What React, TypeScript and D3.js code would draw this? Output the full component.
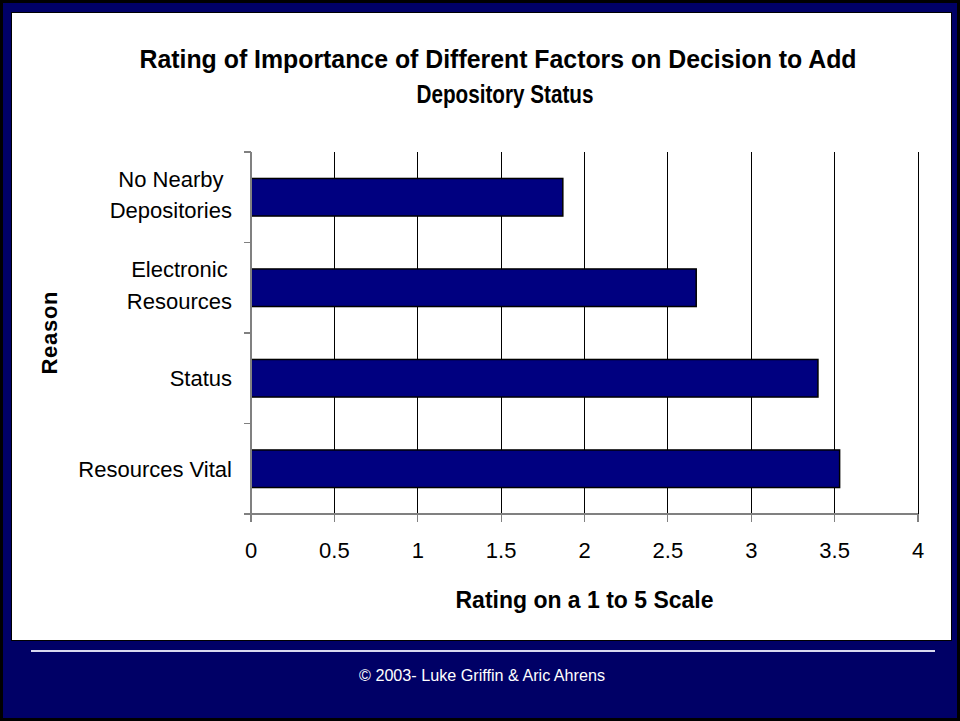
import React from "react";
import * as d3 from "d3";

const categories: string[][] = [
  ["No Nearby", "Depositories"],
  ["Electronic", "Resources"],
  ["Status"],
  ["Resources Vital"],
];
const values: number[] = [1.87, 2.67, 3.4, 3.53];
const xTicks: number[] = [0, 0.5, 1, 1.5, 2, 2.5, 3, 3.5, 4];
const titleLines: string[] = [
  "Rating of Importance of Different Factors on Decision to Add",
  "Depository Status",
];
const xTitle = "Rating on a 1 to 5 Scale";
const yTitle = "Reason";
const footer = "\u00A9 2003- Luke Griffin & Aric Ahrens";

const W = 960;
const H = 721;
const plot = { left: 251, right: 918, top: 152, bottom: 514 };
const NAVY = "#000066";
const BAR = "#000080";
const FONT = "'Liberation Sans', Arial, sans-serif";
const LABEL_SIZE = 22;

function measure(text: string, size: number, weight = "normal"): number {
  if (typeof document === "undefined") return text.length * size * 0.5;
  const c = document.createElement("canvas").getContext("2d");
  if (!c) return text.length * size * 0.5;
  c.font = `${weight} ${size}px 'Liberation Sans', Arial, sans-serif`;
  return c.measureText(text).width;
}

export default function App() {
  const x = d3.scaleLinear().domain([0, 4]).range([plot.left, plot.right]);
  const y = d3
    .scaleBand<number>()
    .domain(categories.map((_, i) => i))
    .range([plot.top, plot.bottom])
    .paddingInner(0.585)
    .paddingOuter(0.2925);
  const bandStep = (plot.bottom - plot.top) / categories.length;
  const catTicks = d3.range(categories.length + 1).map((i) => plot.top + i * bandStep);
  const labelRight = 232;

  return (
    <svg
      width={W}
      height={H}
      style={{ position: "absolute", left: 0, top: 0, display: "block" }}
      fontFamily={FONT}
    >
      {/* frame */}
      <rect x={0} y={0} width={W} height={H} fill="#000000" />
      <rect x={3} y={3} width={W - 6} height={H - 6} fill={NAVY} />
      <rect x={11.5} y={12.5} width={940} height={628} fill="#ffffff" stroke="#000" strokeWidth={1} />
      <line x1={31} x2={935} y1={651} y2={651} stroke="#d8d8ee" strokeWidth={2} />
      <text x={482} y={681} textAnchor="middle" fill="#ffffff" fontSize={16}
        textLength={246} lengthAdjust="spacingAndGlyphs">
        {footer}
      </text>

      {/* title */}
      <text x={498} y={68} textAnchor="middle" fontWeight="bold" fontSize={26} fill="#000"
        textLength={717} lengthAdjust="spacingAndGlyphs">
        {titleLines[0]}
      </text>
      <text x={505} y={103} textAnchor="middle" fontWeight="bold" fontSize={26} fill="#000"
        textLength={177} lengthAdjust="spacingAndGlyphs">
        {titleLines[1]}
      </text>

      {/* gridlines */}
      {xTicks.slice(1).map((t) => (
        <line key={"g" + t} x1={x(t)} x2={x(t)} y1={plot.top} y2={plot.bottom} stroke="#000" strokeWidth={1} shapeRendering="crispEdges" />
      ))}

      {/* bars */}
      {values.map((v, i) => (
        <rect
          key={"b" + i}
          x={x(0)}
          y={y(i)!}
          width={x(v) - x(0)}
          height={y.bandwidth()}
          fill={BAR}
          stroke="#000"
          strokeWidth={1.5}
        />
      ))}

      {/* axes */}
      <line x1={plot.left} x2={plot.left} y1={plot.top} y2={plot.bottom} stroke="#808080" strokeWidth={1.2} shapeRendering="crispEdges" />
      <line x1={plot.left - 7} x2={plot.right} y1={plot.bottom} y2={plot.bottom} stroke="#808080" strokeWidth={1.2} shapeRendering="crispEdges" />
      {catTicks.map((ty, i) => (
        <line key={"yt" + i} x1={plot.left - 7} x2={plot.left} y1={ty} y2={ty} stroke="#808080" strokeWidth={1.2} shapeRendering="crispEdges" />
      ))}
      {xTicks.map((t) => (
        <line key={"xt" + t} x1={x(t)} x2={x(t)} y1={plot.bottom} y2={plot.bottom + 8} stroke="#808080" strokeWidth={1.2} shapeRendering="crispEdges" />
      ))}

      {/* x tick labels */}
      {xTicks.map((t) => (
        <text key={"xl" + t} x={x(t)} y={558} textAnchor="middle" fontSize={LABEL_SIZE} fill="#000">
          {String(t)}
        </text>
      ))}

      {/* y labels */}
      {categories.map((lines, i) => {
        const cy = y(i)! + y.bandwidth() / 2;
        const lh = 31.5;
        const maxW = Math.max(...lines.map((l) => measure(l, LABEL_SIZE)));
        const cx = labelRight - maxW / 2;
        const first = lines.length > 1 ? cy - 10.5 : cy + 8;
        return (
          <g key={"yl" + i}>
            {lines.map((l, j) => (
              <text
                key={j}
                x={cx}
                y={first + j * lh}
                textAnchor="middle"
                fontSize={LABEL_SIZE}
                fill="#000"
              >
                {l}
              </text>
            ))}
          </g>
        );
      })}

      {/* axis titles */}
      <text x={(plot.left + plot.right) / 2} y={608} textAnchor="middle" fontWeight="bold" fontSize={23} fill="#000"
        textLength={258} lengthAdjust="spacingAndGlyphs">
        {xTitle}
      </text>
      <text
        transform={`translate(57, ${(plot.top + plot.bottom) / 2}) rotate(-90)`}
        textAnchor="middle"
        fontWeight="bold"
        fontSize={22}
        fill="#000"
        textLength={83}
        lengthAdjust="spacing"
      >
        {yTitle}
      </text>
    </svg>
  );
}
